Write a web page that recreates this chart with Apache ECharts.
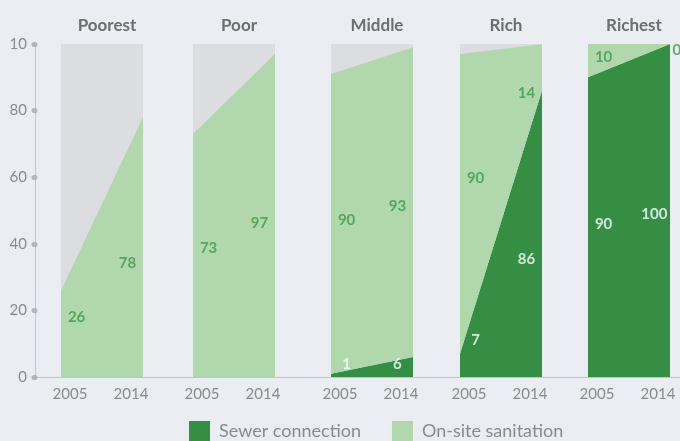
<!DOCTYPE html>
<html>
<head>
<meta charset="utf-8">
<script src="https://cdn.jsdelivr.net/npm/echarts@6/dist/echarts.min.js"></script>
<style>
  html, body { margin: 0; padding: 0; background: #eaedf2; }
  #chart { width: 680px; height: 441px; }
</style>
</head>
<body>
<div id="chart"></div>
<script>
// Wealth quintiles and survey years
const groups = ['Poorest', 'Poor', 'Middle', 'Rich', 'Richest'];
const years = ['2005', '2014'];

// Share of households (%) — null where no sewer connection is reported
const sewer2005 = [null, null, 1, 7, 90];
const sewer2014 = [null, null, 6, 86, 100];
const onsite2005 = [26, 73, 90, 90, 10];
const onsite2014 = [78, 97, 93, 14, 0];

const seriesNames = ['Sewer connection', 'On-site sanitation'];

const FONT = 'Lato, "Open Sans", sans-serif';
const C = {
  rest: '#dcdde0',
  sewer: '#348f44',
  onsite: '#b1d8ad',
  valueLabel: '#3d9a4a',
  axis: '#c3c5c9',
  tick: '#b3b5b9',
  text: '#8a8a8a',
  title: '#6e6e6e'
};

// Panel layout (pixels)
const panelLeft = [61, 193, 331, 460, 588];
const panelWidth = 82;
const TOP = 44, BOTTOM = 64;
const LABEL_X = [0.19, 0.81];   // where value labels sit inside each panel

const grids = [], xAxes = [], yAxes = [], series = [], titles = [];

// Shared frame: vertical percentage axis and the continuous baseline
grids.push({ left: 35, right: 0, top: TOP, bottom: BOTTOM });
xAxes.push({
  gridIndex: 0, type: 'value', min: 0, max: 1,
  axisLine: { show: true, lineStyle: { color: C.axis, width: 1 } },
  axisTick: { show: false }, axisLabel: { show: false }, splitLine: { show: false }
});
yAxes.push({
  gridIndex: 0, type: 'value', min: 0, max: 100, interval: 20,
  axisLine: { show: true, lineStyle: { color: C.axis, width: 1 } },
  axisTick: { show: true, length: 1, lineStyle: { color: C.tick, width: 5, cap: 'round' } },
  axisLabel: {
    color: C.text, fontSize: 15, fontFamily: FONT, margin: 8,
    width: 19, overflow: 'truncate', ellipsis: ''
  },
  splitLine: { show: false }
});

const lerp = (a, b, t) => a + (b - a) * t;

groups.forEach((name, i) => {
  const gi = i + 1;
  grids.push({ left: panelLeft[i], width: panelWidth, top: TOP, bottom: BOTTOM });

  // category axis carrying the years
  const catAxis = xAxes.length;
  xAxes.push({
    gridIndex: gi, type: 'category', data: years, boundaryGap: false,
    axisLine: { show: false }, axisTick: { show: false }, splitLine: { show: false },
    axisLabel: {
      margin: 10, color: C.text, fontSize: 15, fontFamily: FONT, interval: 0,
      formatter: (v, idx) => (idx === 0 ? '{a|' + v + '}' : '{b|' + v + '}'),
      rich: {
        a: { color: C.text, fontSize: 15, fontFamily: FONT, padding: [0, 0, 0, 18] },
        b: { color: C.text, fontSize: 15, fontFamily: FONT, padding: [0, 24, 0, 0] }
      }
    }
  });
  // hidden continuous axis used to place value labels inside the bands
  const posAxis = xAxes.length;
  xAxes.push({ gridIndex: gi, type: 'value', min: 0, max: 1, show: false });

  const yIdx = yAxes.length;
  yAxes.push({ gridIndex: gi, type: 'value', min: 0, max: 100, show: false });

  titles.push({
    text: name,
    left: panelLeft[i] + panelWidth / 2,
    top: 12,
    textAlign: 'center',
    textStyle: { color: C.title, fontSize: 17, fontWeight: 'bold', fontFamily: FONT }
  });

  const s = [sewer2005[i], sewer2014[i]];
  const o = [onsite2005[i], onsite2014[i]];
  const s0 = s.map(v => (v == null ? 0 : v));

  // remainder up to 100 %
  series.push({
    type: 'line', xAxisIndex: catAxis, yAxisIndex: yIdx, silent: true,
    data: [100, 100],
    symbol: 'none', lineStyle: { width: 0 },
    areaStyle: { color: C.rest, opacity: 1 }
  });
  series.push({
    name: seriesNames[0], type: 'line', stack: 'g' + i,
    xAxisIndex: catAxis, yAxisIndex: yIdx, silent: true,
    data: s0,
    symbol: 'none', lineStyle: { width: 0 },
    itemStyle: { color: C.sewer },
    areaStyle: { color: C.sewer, opacity: 1 }
  });
  series.push({
    name: seriesNames[1], type: 'line', stack: 'g' + i,
    xAxisIndex: catAxis, yAxisIndex: yIdx, silent: true,
    data: o,
    symbol: 'none', lineStyle: { width: 0 },
    itemStyle: { color: C.onsite },
    areaStyle: { color: C.onsite, opacity: 1 }
  });

  // value labels, placed in the middle of each band
  const pts = [];
  [0, 1].forEach(j => {
    const t = LABEL_X[j];
    const sewTop = lerp(s0[0], s0[1], t);
    if (s[j] != null) {
      pts.push({ value: [t, Math.max(sewTop / 2, 4), s[j]], label: { color: '#ffffff' } });
    }
    if (o[j] === 0) {
      pts.push({
        value: [j, s0[j], o[j]],
        label: { color: C.valueLabel, position: j ? 'right' : 'left', distance: 2, offset: [0, 6] }
      });
    } else {
      const onTop = lerp(s0[0] + o[0], s0[1] + o[1], t);
      pts.push({ value: [t, Math.max((sewTop + onTop) / 2, sewTop + 4), o[j]], label: { color: C.valueLabel } });
    }
  });
  series.push({
    type: 'scatter', xAxisIndex: posAxis, yAxisIndex: yIdx, silent: true, z: 5,
    symbolSize: 1, itemStyle: { color: 'rgba(0,0,0,0)' },
    data: pts,
    label: {
      show: true, position: 'inside', fontSize: 15, fontWeight: 'bold', fontFamily: FONT,
      formatter: p => String(p.value[2])
    }
  });
});

const chart = echarts.init(document.getElementById('chart'), null, { renderer: 'canvas' });
chart.setOption({
  backgroundColor: '#eaedf2',
  animation: false,
  title: titles,
  grid: grids,
  xAxis: xAxes,
  yAxis: yAxes,
  legend: {
    data: seriesNames,
    left: 189, top: 421, padding: 0,
    icon: 'rect', itemWidth: 21, itemHeight: 21, itemGap: 31,
    selectedMode: false,
    textStyle: { color: C.text, fontSize: 18, fontFamily: FONT, padding: [0, 0, 0, 4] }
  },
  series: series
});
</script>
</body>
</html>
